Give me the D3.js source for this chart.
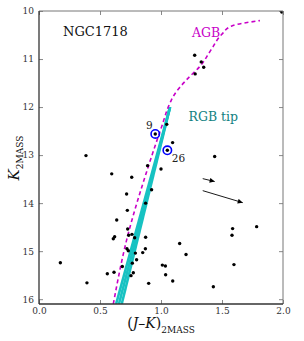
<!DOCTYPE html>
<html>
<head>
<meta charset="utf-8">
<script src="https://d3js.org/d3.v7.min.js"></script>
<style>
  body { margin: 0; background: #fff; }
  text { font-family: "DejaVu Serif", serif; }
</style>
</head>
<body>
<script>
const canvWidth = 304, canvHeight = 341;
const margin = {top: 11, right: 21, bottom: 37, left: 39};
const width = canvWidth - margin.left - margin.right;
const height = canvHeight - margin.top - margin.bottom;

// stars (J-K, K)
const starJK = [0.385, 0.89, 1.276, 1.33, 1.35, 1.28, 1.99, 1.047, 1.095, 1.44, 1.0, 0.953, 1.052,
  0.76, 0.596, 0.718, 0.923, 0.874, 0.724, 0.637, 0.727, 0.609, 0.62, 0.762, 0.735, 0.784, 0.874,
  0.721, 0.732, 0.79, 0.85, 0.872, 0.80, 0.765, 0.175, 0.56, 0.615, 0.683, 0.773, 0.754, 0.393,
  0.899, 1.011, 1.036, 1.038, 1.096, 1.153, 1.205, 1.429, 1.587, 1.582, 1.598, 1.784];
const starK = [13.01, 13.22, 10.92, 11.06, 11.17, 11.31, 10.02, 12.36, 12.74, 13.03, 13.29, 12.56, 12.90,
  13.46, 13.39, 13.81, 13.72, 14.0, 14.15, 14.35, 14.54, 14.74, 14.70, 14.65, 14.67, 14.72, 14.71,
  14.95, 14.99, 15.04, 15.03, 14.95, 15.18, 15.25, 15.24, 15.47, 15.44, 15.32, 15.45, 15.51, 15.66,
  15.67, 15.29, 15.31, 15.49, 15.62, 14.84, 15.07, 15.74, 14.53, 14.67, 15.28, 14.49];

// circled stars
const markedIds = ["9", "26"];
const markedJK = [0.953, 1.052];
const markedK = [12.56, 12.90];

// AGB track (dashed)
const agbJK = [0.609, 0.719, 0.883, 1.000, 1.080, 1.100, 1.21, 1.32, 1.41, 1.497, 1.58, 1.811];
const agbK = [16.1, 14.76, 13.34, 12.45, 11.88, 11.78, 11.43, 11.15, 10.81, 10.49, 10.31, 10.2];

// RGB lines (bottom JK at K=16.1, common tip)
const rgbBottomJK = [0.632, 0.655, 0.678];
const rgbBottomK = 16.1;
const rgbTipJK = 1.074, rgbTipK = 12.0;

// reddening arrows
const arrowX0 = [1.342, 1.342], arrowK0 = [13.49, 13.74];
const arrowX1 = [1.44, 1.67], arrowK1 = [13.55, 13.99];

const xTicks = [0.0, 0.5, 1.0, 1.5, 2.0];
const yTicks = [10, 11, 12, 13, 14, 15, 16];

const svg = d3.select("body").append("svg")
    .attr("width", canvWidth)
    .attr("height", canvHeight);

svg.append("defs").append("marker")
    .attr("id", "head")
    .attr("viewBox", "0 0 10 10")
    .attr("refX", 10).attr("refY", 5)
    .attr("markerWidth", 6).attr("markerHeight", 5)
    .attr("markerUnits", "userSpaceOnUse")
    .attr("orient", "auto")
    .append("path").attr("d", "M0,0L10,5L0,10z").attr("fill", "#000");

const g = svg.append("g")
    .attr("transform", `translate(${margin.left},${margin.top})`);

const x = d3.scaleLinear().domain([0, 2]).range([0, width]);
const y = d3.scaleLinear().domain([10, 16.1]).range([0, height]);

g.append("defs").append("clipPath").attr("id", "clip")
  .append("rect").attr("width", width).attr("height", height);

// ticks (inward on all sides)
const tickCol = "#888", tickLen = 4;
g.append("g").attr("transform", `translate(0,${height})`)
    .call(d3.axisBottom(x).tickValues(xTicks).tickSize(-tickLen).tickFormat(d3.format(".1f")).tickPadding(4))
    .call(a => a.select(".domain").remove());
g.append("g")
    .call(d3.axisTop(x).tickValues(xTicks).tickSize(-tickLen).tickFormat(""))
    .call(a => a.select(".domain").remove());
g.append("g")
    .call(d3.axisLeft(y).tickValues(yTicks).tickSize(-tickLen).tickFormat(d3.format("d")).tickPadding(5))
    .call(a => a.select(".domain").remove());
g.append("g").attr("transform", `translate(${width},0)`)
    .call(d3.axisRight(y).tickValues(yTicks).tickSize(-tickLen).tickFormat(""))
    .call(a => a.select(".domain").remove());
g.selectAll(".tick line").attr("stroke", tickCol);
g.selectAll(".tick text").attr("fill", "#333").style("font-size", "9px")
    .style("font-family", "DejaVu Serif");

const plot = g.append("g").attr("clip-path", "url(#clip)");

// RGB lines
const line = d3.line().x(d => x(d[0])).y(d => y(d[1]));
plot.selectAll(".rgb").data(rgbBottomJK).enter().append("path")
    .attr("class", "rgb")
    .attr("d", d => line([[d, rgbBottomK], [rgbTipJK, rgbTipK]]))
    .attr("fill", "none").attr("stroke", "#17c2c2").attr("stroke-width", 2.6);

// AGB dashed
plot.append("path")
    .attr("d", line.curve(d3.curveMonotoneY)(agbJK.map((v, i) => [v, agbK[i]])))
    .attr("fill", "none").attr("stroke", "#c800c8")
    .attr("stroke-width", 1.6).attr("stroke-dasharray", "4,3");

// stars
plot.selectAll(".star").data(starJK).enter().append("circle")
    .attr("class", "star")
    .attr("cx", d => x(d))
    .attr("cy", (d, i) => y(starK[i]))
    .attr("r", 1.7).attr("fill", "#000");

// circled stars
g.selectAll(".mark").data(markedJK).enter().append("circle")
    .attr("cx", d => x(d)).attr("cy", (d, i) => y(markedK[i]))
    .attr("r", 4.2).attr("fill", "none").attr("stroke", "#0000ff").attr("stroke-width", 1.6);
g.append("text").attr("x", x(markedJK[0]) - 2.5).attr("y", y(markedK[0]) - 5)
    .attr("text-anchor", "end").style("font-size", "10.5px").attr("fill", "#222").text(markedIds[0]);
g.append("text").attr("x", x(markedJK[1]) + 4.5).attr("y", y(markedK[1]) + 12)
    .style("font-size", "10.5px").attr("fill", "#222").text(markedIds[1]);

// arrows
g.selectAll(".arrow").data(arrowX0).enter().append("line")
    .attr("x1", d => x(d)).attr("y1", (d, i) => y(arrowK0[i]))
    .attr("x2", (d, i) => x(arrowX1[i])).attr("y2", (d, i) => y(arrowK1[i]))
    .attr("stroke", "#000").attr("stroke-width", 0.9)
    .attr("marker-end", "url(#head)");

// spines
g.append("line").attr("x1", 0).attr("x2", width).attr("y1", 0).attr("y2", 0).attr("stroke", "#777");
g.append("line").attr("x1", width).attr("x2", width).attr("y1", 0).attr("y2", height).attr("stroke", "#777");
g.append("line").attr("x1", 0).attr("x2", 0).attr("y1", 0).attr("y2", height).attr("stroke", "#333").attr("stroke-width", 1.3);
g.append("line").attr("x1", 0).attr("x2", width).attr("y1", height).attr("y2", height).attr("stroke", "#333").attr("stroke-width", 1.3);

// labels
svg.append("text").attr("x", 63).attr("y", 36).style("font-size", "13px").attr("fill", "#111").text("NGC1718");
svg.append("text").attr("x", 192).attr("y", 36.5).style("font-size", "12.5px").attr("fill", "#c800c8").text("AGB");
svg.append("text").attr("x", 188.5).attr("y", 120.5).style("font-size", "12.5px").attr("fill", "#128282").text("RGB tip");

// axis titles
const xl = svg.append("text").attr("x", 161).attr("y", 328).attr("text-anchor", "middle")
    .style("font-size", "14px").attr("fill", "#111");
xl.append("tspan").text("(");
xl.append("tspan").style("font-style", "italic").text("J");
xl.append("tspan").text("\u2013");
xl.append("tspan").style("font-style", "italic").text("K");
xl.append("tspan").text(")");
xl.append("tspan").attr("dy", 5).style("font-size", "9px").text("2MASS");

const yl = svg.append("text").attr("transform", "translate(19,158) rotate(-90)")
    .attr("text-anchor", "middle").style("font-size", "15px").attr("fill", "#111");
yl.append("tspan").style("font-style", "italic").text("K");
yl.append("tspan").attr("dy", 4).style("font-size", "9px").text("2MASS");
</script>
</body>
</html>
